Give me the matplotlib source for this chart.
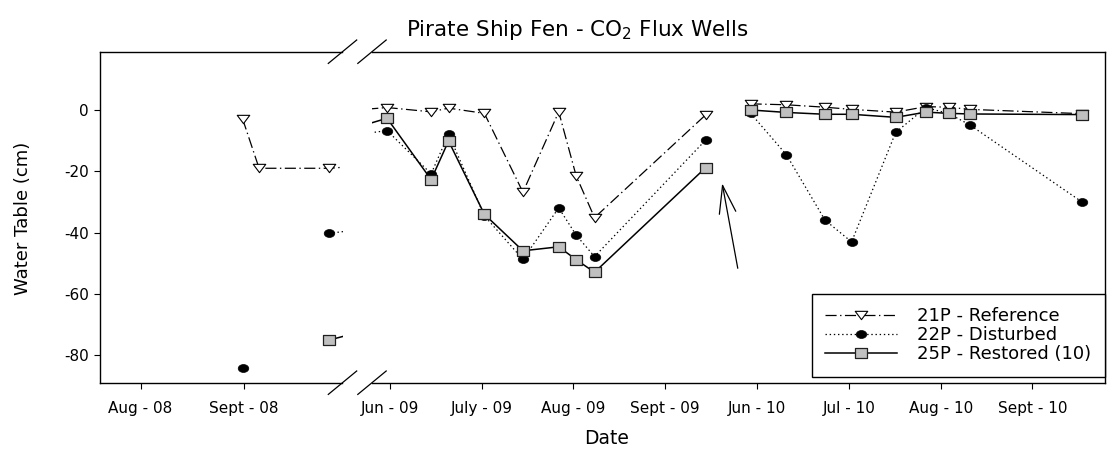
import numpy as np
import matplotlib
matplotlib.use("Agg")
import matplotlib.pyplot as plt
from matplotlib.path import Path
from matplotlib.lines import Line2D

plt.rcParams['font.family'] = ['DejaVu Sans']
plt.rcParams['lines.scale_dashes'] = False

# ---------------- data (x = position on the month scale, Aug-08 = 0) -------------
x_2008 = [0.99, 1.15, 1.83]
ref_2008 = [-2.9, -19.0, -19.0]
dist_2008 = [-84.0, np.nan, -40.2]
rest_2008 = [np.nan, np.nan, -75.0]

x_2009 = [9.97, 10.45, 10.64, 11.03, 11.45, 11.84, 12.03, 12.23, 13.44]
ref_2009 = [0.8, -0.6, 0.6, -1.1, -26.8, -0.6, -21.5, -35.1, -1.6]
dist_2009 = [-6.7, -20.8, -7.9, -34.5, -48.7, -31.9, -40.8, -47.8, -9.8]
rest_2009 = [-2.7, -22.7, -10.1, -34.0, -45.9, -44.6, -48.8, -52.9, -18.8]

x_2010 = [13.93, 14.32, 14.74, 15.03, 15.51, 15.84, 16.09, 16.32, 17.54]
ref_2010 = [2.0, 1.7, 0.9, 0.2, -0.7, 1.1, 0.9, 0.2, -1.2]
dist_2010 = [-1.1, -14.6, -35.9, -43.0, -7.3, 0.8, -1.2, -4.9, -30.0]
rest_2010 = [0.0, -0.8, -1.4, -1.4, -2.4, -0.7, -1.1, -1.3, -1.5]

ticks_left = [0, 1]
labels_left = ["Aug - 08", "Sept - 08"]
ticks_right = [10, 11, 12, 13, 14, 15, 16, 17]
labels_right = ["Jun - 09", "July - 09", "Aug - 09", "Sept - 09",
                "Jun - 10", "Jul - 10", "Aug - 10", "Sept - 10"]
series_names = ["21P - Reference", "22P - Disturbed", "25P - Restored (10)"]
y_ticks = [0, -20, -40, -60, -80]

# ---------------- figure ----------------
W, H = 1107, 454
fig = plt.figure(figsize=(W / 100, H / 100), dpi=100)

def fx(px):
    return px / W

def fy(py):
    return 1 - py / H

top_px, bot_px = 51.7, 382.7
ax1 = fig.add_axes([fx(100), fy(bot_px), fx(342.5) - fx(100), fy(top_px) - fy(bot_px)])
ax2 = fig.add_axes([fx(372), fy(bot_px), fx(1105) - fx(372), fy(top_px) - fy(bot_px)])

# custom (horizontally wide) markers
ell = Path.unit_circle()
ell = Path(ell.vertices * np.array([1.33, 1.0]), ell.codes)
tri = Path([(-0.5, 0.333), (0.5, 0.333), (0.0, -0.333), (-0.5, 0.333)],
           [Path.MOVETO, Path.LINETO, Path.LINETO, Path.CLOSEPOLY])
sq = Path([(-0.5, -0.43), (0.5, -0.43), (0.5, 0.43), (-0.5, 0.43), (-0.5, -0.43)],
          [Path.MOVETO, Path.LINETO, Path.LINETO, Path.LINETO, Path.CLOSEPOLY])

st_ref = dict(color='black', lw=0.9, ls=(0, (8, 2.5, 1, 2.5)), marker=tri,
              ms=9.0, mfc='white', mec='black', mew=0.8, zorder=3)
st_dist = dict(color='black', lw=0.9, ls=(0, (1, 2)), marker=ell,
               ms=7.6, mfc='black', mec='black', mew=0.5, zorder=4)
st_rest = dict(color='black', lw=1.1, ls='-', marker=sq,
               ms=8.0, mfc='#c0c0c0', mec='#202020', mew=0.9, zorder=5)

x_a = x_2008 + x_2009
for ax in (ax1, ax2):
    ax.plot(x_a, ref_2008 + ref_2009, **st_ref)
    ax.plot(x_a, dist_2008 + dist_2009, **st_dist)
    ax.plot(x_a, rest_2008 + rest_2009, **st_rest)
h1, = ax2.plot(x_2010, ref_2010, **st_ref)
h2, = ax2.plot(x_2010, dist_2010, **st_dist)
h3, = ax2.plot(x_2010, rest_2010, **st_rest)

ylo, yhi = -88.9, 19.0
for ax in (ax1, ax2):
    ax.set_ylim(ylo, yhi)
    for s in ax.spines.values():
        s.set_linewidth(1.0)
ax1.set_xlim(-0.393, 1.959)
ax2.set_xlim(9.806, 17.79)
ax1.spines['right'].set_visible(False)
ax2.spines['left'].set_visible(False)

tick_fs = 11
ax1.set_xticks(ticks_left)
ax1.set_xticklabels(labels_left, fontsize=tick_fs)
ax2.set_xticks(ticks_right)
ax2.set_xticklabels(labels_right, fontsize=tick_fs)
ax1.set_yticks(y_ticks)
ax1.set_yticklabels([str(v) for v in y_ticks], fontsize=tick_fs)
ax2.set_yticks([])
for ax in (ax1, ax2):
    ax.tick_params(axis='both', direction='out', length=4, width=0.8, pad=9)
ax1.tick_params(axis='y', pad=4)

# break marks
for xc in (342.5, 372.0):
    for yc in (top_px, bot_px):
        fig.add_artist(Line2D([fx(xc - 14.2), fx(xc + 14.2)],
                              [fy(yc + 11.7), fy(yc - 11.7)],
                              transform=fig.transFigure, color='black', lw=0.9))

# arrow
ax2.annotate('', xy=(13.62, -23.9), xytext=(13.79, -51.6),
             arrowprops=dict(arrowstyle='->,head_length=2.0,head_width=0.6',
                             lw=0.9, color='black', shrinkA=0, shrinkB=0))

# texts
fig.text(fx(578), fy(30), 'Pirate Ship Fen - CO$_2$ Flux Wells', ha='center',
         va='center', fontsize=15.5)
fig.text(fx(607), fy(438), 'Date', ha='center', va='center', fontsize=13.5)
fig.text(fx(23), fy(218), 'Water Table (cm)', ha='center', va='center',
         rotation=90, fontsize=13)

leg = ax2.legend([h1, h2, h3], series_names, loc='lower right',
                 bbox_to_anchor=(1.0, 0.018), borderaxespad=0, fontsize=13,
                 handlelength=4.0, handletextpad=1.1, numpoints=1,
                 fancybox=False, framealpha=1, edgecolor='black',
                 labelspacing=0.05, borderpad=0.75)
leg.get_frame().set_linewidth(1.0)

fig.savefig('out.png', dpi=100)
